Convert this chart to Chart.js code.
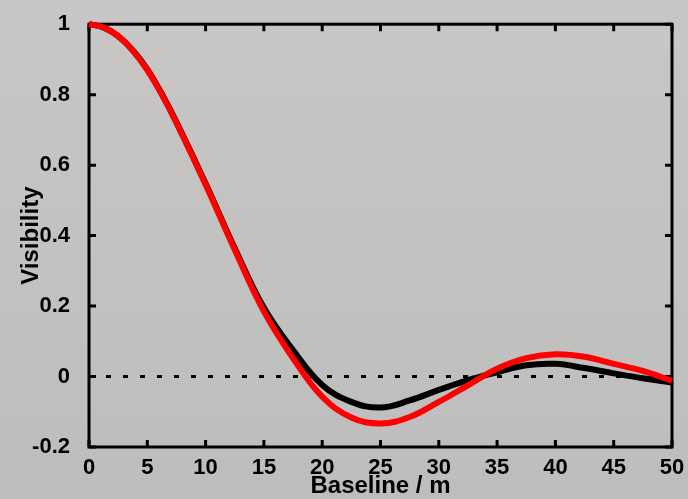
<!DOCTYPE html>
<html>
<head>
<meta charset="utf-8">
<script src="https://cdn.jsdelivr.net/npm/chart.js@4"></script>
<style>
  html, body { margin: 0; padding: 0; }
  body {
    width: 688px; height: 499px; overflow: hidden;
    background: linear-gradient(to bottom, #c9c7c5 0%, #c4c3c2 40%, #bdbdbd 100%);
  }
  canvas { display: block; }
</style>
</head>
<body>
<canvas id="chart" width="688" height="499"></canvas>
<script>
// Visibility vs baseline
const baseline = [0, 1.25, 2.5, 3.75, 5, 6.25, 7.5, 10, 12.5, 15, 17.5, 20, 22.5, 25, 27.5, 30, 32.5, 35, 37.5, 40, 42.5, 45, 47.5, 50];
const visBlack = [1, 0.991, 0.966, 0.926, 0.872, 0.802, 0.722, 0.548, 0.364, 0.195, 0.075, -0.024, -0.072, -0.088, -0.068, -0.038, -0.01, 0.012, 0.032, 0.036, 0.024, 0.009, -0.005, -0.017];
const visRed   = [1, 0.991, 0.966, 0.925, 0.870, 0.800, 0.720, 0.545, 0.360, 0.185, 0.052, -0.057, -0.116, -0.133, -0.115, -0.072, -0.025, 0.022, 0.052, 0.063, 0.056, 0.036, 0.016, -0.012];
const zeroX = [0, 50];
const zeroY = [0, 0];
const xTicks = [0, 5, 10, 15, 20, 25, 30, 35, 40, 45, 50];
const yTicks = [-0.2, 0, 0.2, 0.4, 0.6, 0.8, 1];

const pts = (xs, ys) => xs.map((x, i) => ({ x: x, y: ys[i] }));

// frame + inward ticks on all four sides
const framePlugin = {
    id: 'frame',
    beforeDatasetsDraw(chart) {
        const { ctx, chartArea: a, scales } = chart;
        const len = 7;
        ctx.save();
        ctx.strokeStyle = '#000';
        ctx.lineWidth = 3;
        ctx.strokeRect(a.left, a.top, a.right - a.left, a.bottom - a.top);
        ctx.beginPath();
        xTicks.forEach(v => {
            const px = scales.x.getPixelForValue(v);
            ctx.moveTo(px, a.bottom); ctx.lineTo(px, a.bottom - len);
            ctx.moveTo(px, a.top); ctx.lineTo(px, a.top + len);
        });
        yTicks.forEach(v => {
            const py = scales.y.getPixelForValue(v);
            ctx.moveTo(a.left, py); ctx.lineTo(a.left + len, py);
            ctx.moveTo(a.right, py); ctx.lineTo(a.right - len, py);
        });
        ctx.stroke();
        ctx.restore();
    }
};

const font = { family: '"Liberation Sans", Arial, sans-serif', weight: 'bold', size: 22 };

new Chart(document.getElementById('chart'), {
    type: 'line',
    data: {
        datasets: [
            {
                label: 'red',
                data: pts(baseline, visRed),
                borderColor: '#ff0000',
                borderWidth: 6,
                pointRadius: 0,
                tension: 0.4,
                clip: false
            },
            {
                label: 'black',
                data: pts(baseline, visBlack),
                borderColor: '#000000',
                borderWidth: 6,
                pointRadius: 0,
                tension: 0.4,
                clip: false
            },
            {
                label: 'zero',
                data: pts(zeroX, zeroY),
                borderColor: '#000000',
                borderWidth: 3,
                borderDash: [5, 12],
                pointRadius: 0
            }
        ]
    },
    options: {
        responsive: false,
        animation: false,
        events: [],
        layout: { padding: { top: 19, right: 16, left: 0, bottom: 0 } },
        plugins: { legend: { display: false }, tooltip: { enabled: false } },
        scales: {
            x: {
                type: 'linear',
                min: 0, max: 50,
                grid: { display: false },
                border: { display: false },
                afterFit: s => { s.height = 52; },
                afterBuildTicks: s => { s.ticks = xTicks.map(v => ({ value: v })); },
                ticks: { color: '#000', font: font, padding: 0, autoSkip: false, maxRotation: 0 },
                title: { display: true, text: 'Baseline / m', color: '#000', font: { ...font, size: 24 }, padding: { top: 0, bottom: -2 } }
            },
            y: {
                min: -0.2, max: 1,
                grid: { display: false },
                border: { display: false },
                afterFit: s => { s.width = 89; },
                afterBuildTicks: s => { s.ticks = yTicks.map(v => ({ value: v })); },
                ticks: {
                    color: '#000', font: font, padding: 11,
                    callback: v => String(Number(v.toFixed(1)))
                },
                title: { display: true, text: 'Visibility', color: '#000', font: { ...font, size: 24 }, padding: { top: 17, bottom: 0 } }
            }
        }
    },
    plugins: [framePlugin]
});
</script>
</body>
</html>
